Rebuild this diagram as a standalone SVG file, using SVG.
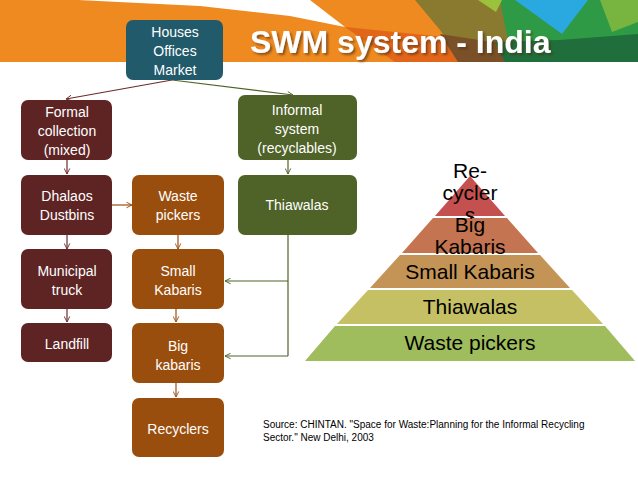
<svg xmlns="http://www.w3.org/2000/svg" width="638" height="479" viewBox="0 0 638 479">
<defs>
<marker id="am" viewBox="0 0 10 10" refX="9" refY="5" markerWidth="7" markerHeight="7" orient="auto" markerUnits="userSpaceOnUse"><path d="M1,1 L9,5 L1,9" fill="none" stroke="#6b2a2a" stroke-width="1.3"/></marker>
<marker id="ao" viewBox="0 0 10 10" refX="9" refY="5" markerWidth="7" markerHeight="7" orient="auto" markerUnits="userSpaceOnUse"><path d="M1,1 L9,5 L1,9" fill="none" stroke="#9a4e10" stroke-width="1.3"/></marker>
<marker id="ag" viewBox="0 0 10 10" refX="9" refY="5" markerWidth="7" markerHeight="7" orient="auto" markerUnits="userSpaceOnUse"><path d="M1,1 L9,5 L1,9" fill="none" stroke="#4f6228" stroke-width="1.3"/></marker>
<filter id="sh" x="-5%" y="-20%" width="110%" height="150%"><feDropShadow dx="2" dy="2" stdDeviation="0.8" flood-color="#4a2a10" flood-opacity="0.6"/></filter>
</defs>
<style>
.m{fill:#5e2424}
.o{fill:#9a4e0e}
.g{fill:#4f6228}
.nt{font-family:"Liberation Sans",Arial,sans-serif;font-size:14px;fill:#ffffff;text-anchor:middle}
.pt{font-family:"Liberation Sans",Arial,sans-serif;font-size:21px;fill:#000000;text-anchor:middle}
.cm{fill:none;stroke:#6b2a2a;stroke-width:1.2;marker-end:url(#am)}
.co{fill:none;stroke:#9a4e10;stroke-width:1.2;marker-end:url(#ao)}
.cg{fill:none;stroke:#4f6228;stroke-width:1.2;marker-end:url(#ag)}
</style>
<rect width="638" height="479" fill="#ffffff"/>
<g id="header">
<rect x="0" y="0" width="638" height="62" fill="#ef8a20"/>
<polygon points="78,0 310,0 345,27 290,16 200,6" fill="#ffffff"/>
<polygon points="345,27 455,38 462,62 395,62" fill="#e2661a"/>
<polygon points="415,0 500,0 518,62 462,62 440,30" fill="#8a7a30"/>
<polygon points="440,34 505,44 512,62 458,62" fill="#7a5028"/>
<polygon points="500,0 638,0 638,62 512,62" fill="#2e9a45"/>
<polygon points="478,0 502,0 496,12" fill="#9cc23c"/>
<polygon points="515,0 588,0 562,34" fill="#2aa8e0"/>
<polygon points="600,0 638,0 638,22 612,32" fill="#78b440"/>
<polygon points="495,42 560,40 638,34 638,62 505,62" fill="#1f6e3c"/>
<text x="250" y="53" font-family="'Liberation Sans',Arial,sans-serif" font-size="32" font-weight="bold" fill="#ffffff" filter="url(#sh)">SWM system - India</text>
</g>
<g id="connectors">
<path class="cm" d="M172,80 L66,99"/>
<path class="cg" d="M172,80 L293,95"/>
<path class="cm" d="M67,160 L67,174"/>
<path class="co" d="M112,205 L132,205"/>
<path class="cm" d="M67,235 L67,249"/>
<path class="cm" d="M67,309 L67,322"/>
<path class="co" d="M178,235 L178,249"/>
<path class="co" d="M176,309 L176,322"/>
<path class="co" d="M176,383 L176,397"/>
<path class="cg" d="M288,160 L288,174"/>
<path fill="none" stroke="#4f6228" stroke-width="1.2" d="M288,235 L288,356"/>
<path class="cg" d="M288,281 L225,281"/>
<path class="cg" d="M288,356 L225,356"/>
</g>
<g id="n-houses">
<rect x="126" y="20" width="97" height="60" rx="7" fill="#215a6a"/>
<text class="nt" x="175" y="37"><tspan x="175">Houses</tspan><tspan x="175" y="56">Offices</tspan><tspan x="175" y="75">Market</tspan></text>
</g>
<g id="n-formal">
<rect class="m" x="21" y="100" width="91" height="60" rx="7"/>
<text class="nt" x="67" y="117"><tspan x="67">Formal</tspan><tspan x="67" y="136">collection</tspan><tspan x="67" y="155">(mixed)</tspan></text>
</g>
<g id="n-informal">
<rect class="g" x="238" y="95" width="119" height="65" rx="7"/>
<text class="nt" x="297" y="115"><tspan x="297">Informal</tspan><tspan x="297" y="134">system</tspan><tspan x="297" y="153">(recyclables)</tspan></text>
</g>
<g id="n-dhalaos">
<rect class="m" x="21" y="175" width="91" height="60" rx="7"/>
<text class="nt" x="67" y="201"><tspan x="67">Dhalaos</tspan><tspan x="67" y="220">Dustbins</tspan></text>
</g>
<g id="n-wastepickers">
<rect class="o" x="132" y="175" width="92" height="60" rx="7"/>
<text class="nt" x="178" y="201"><tspan x="178">Waste</tspan><tspan x="178" y="220">pickers</tspan></text>
</g>
<g id="n-thiawalas">
<rect class="g" x="238" y="175" width="119" height="60" rx="7"/>
<text class="nt" x="297" y="210">Thiawalas</text>
</g>
<g id="n-municipal">
<rect class="m" x="21" y="249" width="91" height="60" rx="7"/>
<text class="nt" x="67" y="276"><tspan x="67">Municipal</tspan><tspan x="67" y="295">truck</tspan></text>
</g>
<g id="n-smallkabaris">
<rect class="o" x="132" y="249" width="92" height="60" rx="7"/>
<text class="nt" x="178" y="276"><tspan x="178">Small</tspan><tspan x="178" y="295">Kabaris</tspan></text>
</g>
<g id="n-landfill">
<rect class="m" x="21" y="323" width="91" height="39" rx="7"/>
<text class="nt" x="67" y="349">Landfill</text>
</g>
<g id="n-bigkabaris">
<rect class="o" x="132" y="323" width="92" height="60" rx="7"/>
<text class="nt" x="178" y="351"><tspan x="178">Big</tspan><tspan x="178" y="370">kabaris</tspan></text>
</g>
<g id="n-recyclers">
<rect class="o" x="132" y="398" width="92" height="59" rx="7"/>
<text class="nt" x="178" y="434">Recyclers</text>
</g>
<g id="pyramid">
<polygon points="470,176 505,216 435,216" fill="#c4504f"/>
<text class="pt" x="470" y="178"><tspan x="470">Re-</tspan><tspan x="470" y="200">cycler</tspan><tspan x="470" y="222">s</tspan></text>
<polygon points="433,218 507,218 538,253 402,253" fill="#c47450"/>
<text class="pt" x="470" y="232"><tspan x="470">Big</tspan><tspan x="470" y="254">Kabaris</tspan></text>
<polygon points="400,255 540,255 570,288 370,288" fill="#c49456"/>
<text class="pt" x="470" y="279">Small Kabaris</text>
<polygon points="368,290 572,290 603,324 337,324" fill="#c6c064"/>
<text class="pt" x="470" y="314">Thiawalas</text>
<polygon points="335,326 605,326 635,361 305,361" fill="#9fbd5c"/>
<text class="pt" x="470" y="350">Waste pickers</text>
</g>
<g id="source">
<text x="263" y="428" font-family="'Liberation Sans',Arial,sans-serif" font-size="10" fill="#000000"><tspan x="263">Source: CHINTAN. "Space for Waste:Planning for the Informal Recycling</tspan><tspan x="263" y="441">Sector." New Delhi, 2003</tspan></text>
</g>
</svg>
